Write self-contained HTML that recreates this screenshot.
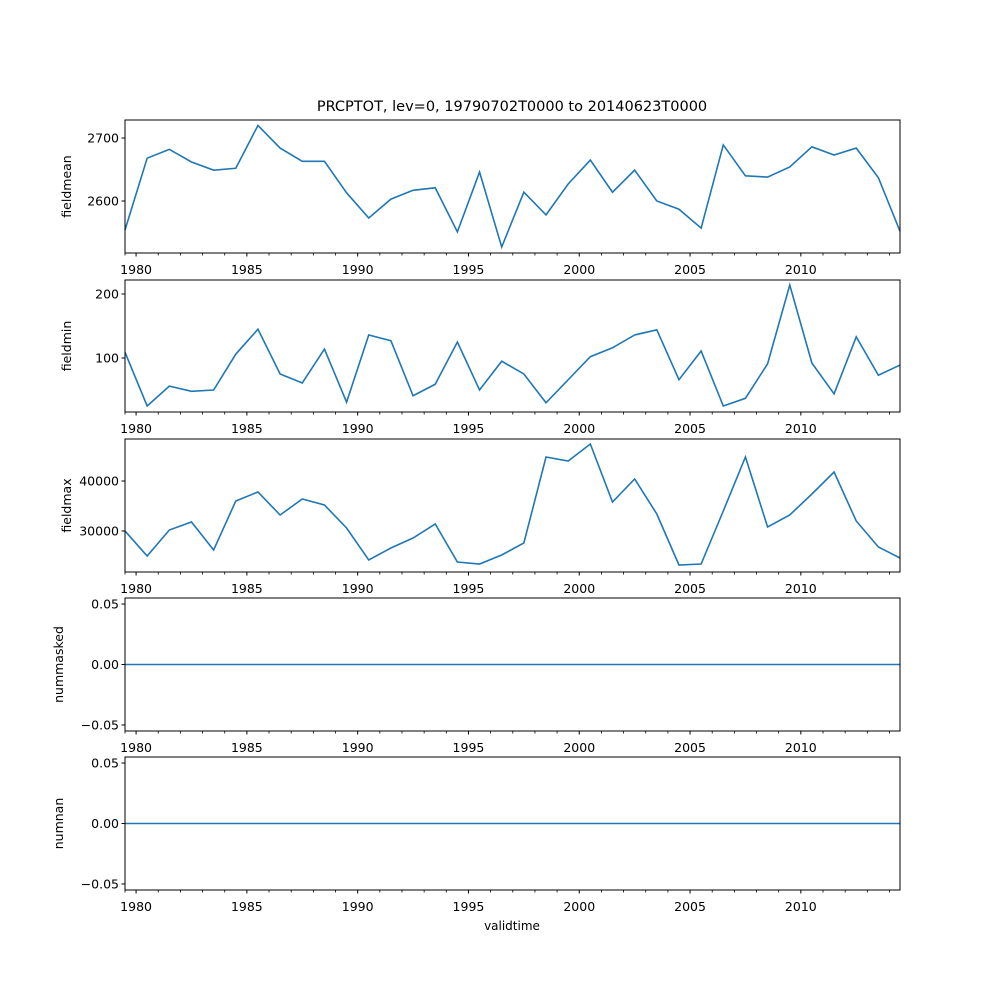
<!DOCTYPE html>
<html><head><meta charset="utf-8"><style>
html,body{margin:0;padding:0;background:#fff}
svg{display:block;font-family:"DejaVu Sans","Liberation Sans",sans-serif}
</style></head><body>
<svg id="chart" width="1000" height="1000" viewBox="0 0 1000 1000">
<rect width="1000" height="1000" fill="#fff"/>
<text x="512" y="111" font-size="14.5" text-anchor="middle">PRCPTOT, lev=0, 19790702T0000 to 20140623T0000</text>
<text x="512" y="930" font-size="12" text-anchor="middle">validtime</text>
</svg>
<script>
const years = [1979,1980,1981,1982,1983,1984,1985,1986,1987,1988,1989,1990,1991,1992,1993,1994,1995,1996,1997,1998,1999,2000,2001,2002,2003,2004,2005,2006,2007,2008,2009,2010,2011,2012,2013,2014];
const fieldmean = [2554,2668,2682,2662,2649,2652,2720,2684,2663,2663,2613,2573,2603,2617,2621,2551,2646,2527,2614,2578,2627,2665,2614,2649,2600,2587,2557,2689,2640,2638,2654,2686,2673,2684,2637,2552];
const fieldmin = [109,25,56,48,50,106,145,75,61,114,31,136,127,41,59,125,50,95,75,30,66,102,116,136,144,66,111,25,37,91,214,92,44,133,73,89];
const fieldmax = [30000,25000,30200,31800,26200,36000,37800,33200,36400,35200,30600,24200,26600,28600,31400,23800,23400,25200,27600,44800,44000,47400,35800,40400,33400,23200,23400,34000,44800,30800,33200,37400,41800,32000,26800,24600];
const nummasked = years.map(()=>0);
const numnan = years.map(()=>0);
const panels = [
 {name:'fieldmean', vals:fieldmean, top:120, bot:253, ymin:2517.5, ymax:2728.6, ticks:[2600,2700], labels:['2600','2700']},
 {name:'fieldmin', vals:fieldmin, top:280, bot:412, ymin:15.6, ymax:221.9, ticks:[100,200], labels:['100','200']},
 {name:'fieldmax', vals:fieldmax, top:439, bot:572, ymin:21800, ymax:48400, ticks:[30000,40000], labels:['30000','40000']},
 {name:'nummasked', vals:nummasked, top:598, bot:731, ymin:-0.055, ymax:0.055, ticks:[-0.05,0,0.05], labels:['\u22120.05','0.00','0.05']},
 {name:'numnan', vals:numnan, top:757, bot:890, ymin:-0.055, ymax:0.055, ticks:[-0.05,0,0.05], labels:['\u22120.05','0.00','0.05']}
];
const L=125,R=900,T0=1979.5,T1=2014.475;
const NS='http://www.w3.org/2000/svg';
const svg=document.getElementById('chart');
function xs(t){return L+(t-T0)/(T1-T0)*(R-L);}
function mk(tag,attrs,parent){const e=document.createElementNS(NS,tag);for(const k in attrs)e.setAttribute(k,attrs[k]);(parent||svg).appendChild(e);return e;}
panels.forEach(p=>{
 const g=mk('g',{});
 
 
 const ys=v=>p.bot-(v-p.ymin)/(p.ymax-p.ymin)*(p.bot-p.top);
 const tx=i=>i===years.length-1?T1:years[i]+0.5;
 const d=p.vals.map((v,i)=>(i?'L':'M')+xs(tx(i)).toFixed(2)+','+ys(v).toFixed(2)).join(' ');
 const line=mk('path',{d:d,fill:'none',stroke:'#1f77b4','stroke-width':1.6},g);
 
 
 const fr=mk('rect',{x:L,y:p.top,width:R-L,height:p.bot-p.top,fill:'none',stroke:'#000','stroke-width':1},g);
 
 
 p.ticks.forEach((t,i)=>{
  const y=ys(t);
  mk('line',{x1:L-3.5,x2:L,y1:y,y2:y,stroke:'#000','stroke-width':1},g);
  const tl=mk('text',{x:L-6,y:y+4.5,'font-size':12.5,'text-anchor':'end'},g);
  tl.textContent=p.labels[i];
  
  
 });
 const yl=mk('text',{x:0,y:0,'font-size':12.5,'text-anchor':'middle',transform:`translate(${p.name.startsWith('field')?71:63},${(p.top+p.bot)/2}) rotate(-90)`},g);
 yl.textContent=p.name;
 
 
 mk('line',{x1:xs(T0),x2:xs(T0),y1:p.bot,y2:p.bot+2.5,stroke:'#000','stroke-width':0.8},g);
 for(let yr=1980;yr<=2014;yr++){
  const x=xs(yr);const maj=yr%5===0;
  mk('line',{x1:x,x2:x,y1:p.bot,y2:p.bot+(maj?3.5:2.5),stroke:'#000','stroke-width':maj?1:0.8},g);
  if(maj){
   const xl=mk('text',{x:x,y:p.bot+21,'font-size':12.5,'text-anchor':'middle'},g);
   xl.textContent=String(yr);
   
   
  }
 }
});
</script>
</body></html>
